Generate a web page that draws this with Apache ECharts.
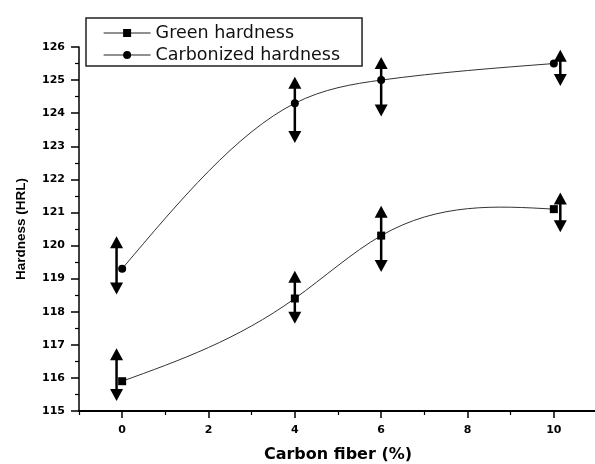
<!DOCTYPE html>
<html>
<head>
<meta charset="utf-8">
<script src="https://cdn.jsdelivr.net/npm/echarts@6/dist/echarts.min.js"></script>
<style>html,body{margin:0;padding:0;background:#fff;}#c{width:595px;height:464px;}</style>
</head>
<body>
<div id="c"></div>
<script>
const carbonFiber = [0, 4, 6, 10];
const greenHardness = [115.9, 118.4, 120.3, 121.1];
const carbonizedHardness = [119.3, 124.3, 125.0, 125.5];
// double-arrow error marks: x position, centre, half-length
const greenArrowX = [-0.13, 4, 6, 10.15];
const greenArrowMid = [116.1, 118.44, 120.2, 121.0];
const greenArrowErr = [0.8, 0.8, 1.0, 0.6];
const carbArrowX = [-0.13, 4, 6, 10.15];
const carbArrowMid = [119.4, 124.1, 124.8, 125.37];
const carbArrowErr = [0.88, 1.0, 0.9, 0.55];
const xMajorTicks = [0, 2, 4, 6, 8, 10];
const xMinorTicks = [-1, 1, 3, 5, 7, 9, 11];

const chart = echarts.init(document.getElementById('c'), null, {renderer: 'canvas'});

function arrows(xs, mids, errs) {
  return xs.map((x, i) => [x, mids[i], errs[i]]);
}
function renderArrow(params, api) {
  const x = api.value(0), c = api.value(1), e = api.value(2);
  const top = api.coord([x, c + e]);
  const bot = api.coord([x, c - e]);
  const hw = 6.5, hh = 12;
  return {
    type: 'group',
    children: [
      {type: 'line', shape: {x1: top[0], y1: top[1] + hh - 1, x2: bot[0], y2: bot[1] - hh + 1},
       style: {stroke: '#000', lineWidth: 2.5}},
      {type: 'polygon', shape: {points: [[top[0], top[1]], [top[0] - hw, top[1] + hh], [top[0] + hw, top[1] + hh]]},
       style: {fill: '#000'}},
      {type: 'polygon', shape: {points: [[bot[0], bot[1]], [bot[0] - hw, bot[1] - hh], [bot[0] + hw, bot[1] - hh]]},
       style: {fill: '#000'}}
    ]
  };
}

// natural cubic spline slopes at the knots (value space)
function splineSlopes(xs, ys) {
  const n = xs.length;
  const h = [], d = [];
  for (let i = 0; i < n - 1; i++) { h.push(xs[i + 1] - xs[i]); d.push((ys[i + 1] - ys[i]) / h[i]); }
  // solve tridiagonal for second derivatives M (natural: M0 = Mn-1 = 0)
  const M = new Array(n).fill(0);
  const a = [], b = [], c = [], r = [];
  for (let i = 1; i < n - 1; i++) {
    a.push(h[i - 1]); b.push(2 * (h[i - 1] + h[i])); c.push(h[i]); r.push(6 * (d[i] - d[i - 1]));
  }
  const m = r.length;
  for (let i = 1; i < m; i++) {
    const w = a[i] / b[i - 1];
    b[i] -= w * c[i - 1]; r[i] -= w * r[i - 1];
  }
  const sol = new Array(m);
  for (let i = m - 1; i >= 0; i--) sol[i] = (r[i] - (i < m - 1 ? c[i] * sol[i + 1] : 0)) / b[i];
  for (let i = 0; i < m; i++) M[i + 1] = sol[i];
  const s = [];
  for (let i = 0; i < n; i++) {
    if (i < n - 1) s.push(d[i] - h[i] * (2 * M[i] + M[i + 1]) / 6);
    else s.push(d[i - 1] + h[i - 1] * (M[i - 1] + 2 * M[i]) / 6);
  }
  return s;
}
function splineSeries(xs, ys) {
  const slopes = splineSlopes(xs, ys);
  return {
    type: 'custom', silent: true, z: 2,
    data: xs.map((x, i) => [x, ys[i]]),
    encode: {x: 0, y: 1},
    renderItem: function (params, api) {
      if (params.dataIndex !== 0) return null;
      let p = api.coord([xs[0], ys[0]]);
      let path = 'M' + p[0] + ' ' + p[1];
      for (let i = 0; i < xs.length - 1; i++) {
        const hh = xs[i + 1] - xs[i];
        const c1 = api.coord([xs[i] + hh / 3, ys[i] + hh * slopes[i] / 3]);
        const c2 = api.coord([xs[i + 1] - hh / 3, ys[i + 1] - hh * slopes[i + 1] / 3]);
        const e = api.coord([xs[i + 1], ys[i + 1]]);
        path += ' C' + c1[0] + ' ' + c1[1] + ' ' + c2[0] + ' ' + c2[1] + ' ' + e[0] + ' ' + e[1];
      }
      return {type: 'path', shape: {pathData: path}, style: {fill: null, stroke: '#333', lineWidth: 1}};
    }
  };
}

const tickFont = {fontFamily: 'DejaVu Sans', fontWeight: 'bold', fontSize: 11, color: '#000'};

chart.setOption({
  animation: false,
  backgroundColor: '#fff',
  grid: {left: 79, top: 47, bottom: 53, right: -2, containLabel: false, outerBoundsMode: 'none'},
  legend: {
    data: ['Green hardness', 'Carbonized hardness'],
    orient: 'vertical',
    left: 86, top: 18,
    padding: [6, 22, 2, 17],
    itemGap: 4,
    itemWidth: 47, itemHeight: 10,
    borderColor: '#222', borderWidth: 1.5,
    lineStyle: {width: 1.2, color: '#222', opacity: 1},
    textStyle: {fontFamily: 'DejaVu Sans', fontSize: 17.5, color: '#111'}
  },
  xAxis: [{
    type: 'value', min: -1, max: 11, position: 'bottom',
    axisLine: {show: true, onZero: false, lineStyle: {color: '#000', width: 2}},
    axisTick: {show: true, length: 7, customValues: xMajorTicks, lineStyle: {color: '#000', width: 1.5}},
    axisLabel: Object.assign({margin: 14, customValues: xMajorTicks}, tickFont),
    splitLine: {show: false},
    name: 'Carbon fiber (%)', nameLocation: 'middle', nameGap: 36,
    nameTextStyle: {fontFamily: 'DejaVu Sans', fontWeight: 'bold', fontSize: 16, color: '#000'}
  }, {
    type: 'value', min: -1, max: 11, position: 'bottom', gridIndex: 0,
    axisLine: {show: false, onZero: false},
    axisTick: {show: true, length: 4, customValues: xMinorTicks, lineStyle: {color: '#000', width: 1.2}},
    axisLabel: {show: false},
    splitLine: {show: false}
  }],
  yAxis: {
    type: 'value', min: 115, max: 126, interval: 1,
    axisLine: {show: true, onZero: false, lineStyle: {color: '#000', width: 1.5}},
    axisTick: {show: true, length: 8, lineStyle: {color: '#000', width: 1.5}},
    minorTick: {show: true, splitNumber: 2, length: 4, lineStyle: {color: '#000', width: 1.2}},
    axisLabel: Object.assign({margin: 14}, tickFont),
    splitLine: {show: false},
    name: 'Hardness (HRL)', nameLocation: 'middle', nameGap: 51, nameRotate: 90,
    nameTextStyle: {fontFamily: 'Liberation Sans', fontWeight: 'bold', fontSize: 13.5, color: '#000'}
  },
  series: [
    {type: 'custom', name: 'gerr', renderItem: renderArrow, data: arrows(greenArrowX, greenArrowMid, greenArrowErr),
     encode: {x: 0, y: 1}, z: 2, silent: true},
    {type: 'custom', name: 'cerr', renderItem: renderArrow, data: arrows(carbArrowX, carbArrowMid, carbArrowErr),
     encode: {x: 0, y: 1}, z: 2, silent: true},
    splineSeries(carbonFiber, greenHardness),
    splineSeries(carbonFiber, carbonizedHardness),
    {type: 'line', name: 'Green hardness', symbol: 'rect', symbolSize: 8,
     data: carbonFiber.map((x, i) => [x, greenHardness[i]]),
     itemStyle: {color: '#000'}, lineStyle: {color: '#222', width: 0}, z: 3},
    {type: 'line', name: 'Carbonized hardness', symbol: 'circle', symbolSize: 8,
     data: carbonFiber.map((x, i) => [x, carbonizedHardness[i]]),
     itemStyle: {color: '#000'}, lineStyle: {color: '#222', width: 0}, z: 3}
  ]
});
</script>
</body>
</html>
